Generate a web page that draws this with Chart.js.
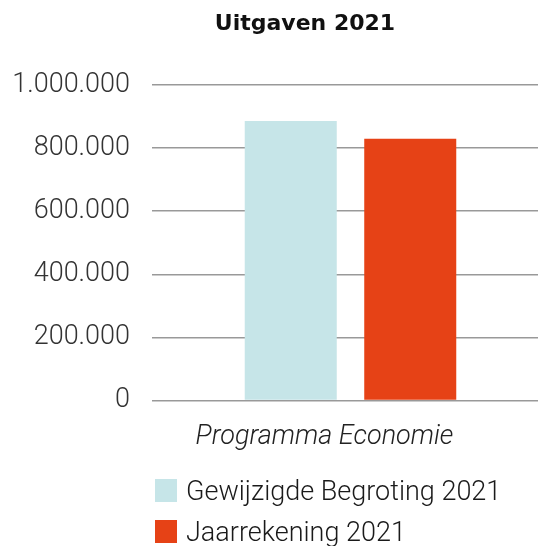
<!DOCTYPE html>
<html>
<head>
<meta charset="utf-8">
<script src="https://cdn.jsdelivr.net/npm/chart.js@4/dist/chart.umd.min.js"></script>
<style>
  html, body { margin: 0; padding: 0; background: #fff; overflow: hidden; width: 538px; height: 546px; }
  #wrap { position: relative; width: 538px; height: 546px; overflow: hidden; }
  canvas { position: absolute; left: 0; top: 0; }
  #legend { position: absolute; left: 155px; top: 479px; font-family: Roboto, sans-serif; font-weight: 300; font-size: 27px; color: #1a1a1a; }
  #legend .item { display: flex; align-items: center; height: 23px; margin-bottom: 18px; white-space: nowrap; }
  #legend .box { width: 22px; height: 23px; margin-right: 9px; flex: none; }
</style>
</head>
<body>
<div id="wrap">
  <canvas id="c" width="549" height="546"></canvas>
  <div id="legend"></div>
</div>
<script>
const titleText = 'Uitgaven 2021';
const categories = ['Programma Economie'];
const seriesNames = ['Gewijzigde Begroting 2021', 'Jaarrekening 2021'];
const begroting2021 = [886000];
const jaarrekening2021 = [830000];
const seriesColors = ['#c6e5e8', '#e64216'];
const yTickValues = [0, 200000, 400000, 600000, 800000, 1000000];
const yTickLabels = ['0', '200.000', '400.000', '600.000', '800.000', '1.000.000'];

const htmlLegend = {
  id: 'htmlLegend',
  afterUpdate(chart) {
    const el = document.getElementById('legend');
    el.innerHTML = '';
    chart.data.datasets.forEach(ds => {
      const item = document.createElement('div');
      item.className = 'item';
      const box = document.createElement('span');
      box.className = 'box';
      box.style.background = ds.backgroundColor;
      const txt = document.createElement('span');
      txt.textContent = ds.label;
      item.appendChild(box);
      item.appendChild(txt);
      el.appendChild(item);
    });
  }
};

const titlePlugin = {
  id: 'offsetTitle',
  afterDraw(chart, args, opts) {
    const ctx = chart.ctx;
    ctx.save();
    ctx.font = 'bold 22px "DejaVu Sans"';
    ctx.fillStyle = '#111';
    ctx.textAlign = 'center';
    ctx.textBaseline = 'alphabetic';
    ctx.fillText(opts.text, opts.x, opts.y);
    ctx.restore();
  }
};

new Chart(document.getElementById('c'), {
  type: 'bar',
  data: {
    labels: categories,
    datasets: [
      { label: seriesNames[0], data: begroting2021, backgroundColor: seriesColors[0] },
      { label: seriesNames[1], data: jaarrekening2021, backgroundColor: seriesColors[1] }
    ]
  },
  plugins: [htmlLegend, titlePlugin],
  options: {
    responsive: false,
    animation: false,
    categoryPercentage: 0.602,
    barPercentage: 0.77,
    layout: { padding: { left: 0, right: 0, top: 85, bottom: 80.1 } },
    plugins: {
      legend: { display: false },
      tooltip: { enabled: false },
      title: { display: false },
      offsetTitle: { text: titleText, x: 305, y: 29.5 }
    },
    scales: {
      x: {
        grid: { display: false },
        border: { display: false },
        ticks: {
          color: '#222',
          font: { family: 'Roboto', style: 'italic', weight: 300, size: 27, lineHeight: 1.2 },
          padding: 12.5,
          labelOffset: -26
        }
      },
      y: {
        min: 0,
        max: 1000000,
        afterFit(scale) { scale.width = 152; },
        afterBuildTicks(scale) { scale.ticks = yTickValues.map(v => ({ value: v })); },
        grid: { color: '#999', lineWidth: 1.5, drawTicks: false },
        border: { display: false },
        ticks: {
          color: '#333',
          font: { family: 'Roboto', weight: 300, size: 27, lineHeight: 1.2 },
          padding: 22,
          callback(value) {
            const i = yTickValues.indexOf(value);
            return i >= 0 ? yTickLabels[i] : '';
          }
        }
      }
    }
  }
});
</script>
</body>
</html>
